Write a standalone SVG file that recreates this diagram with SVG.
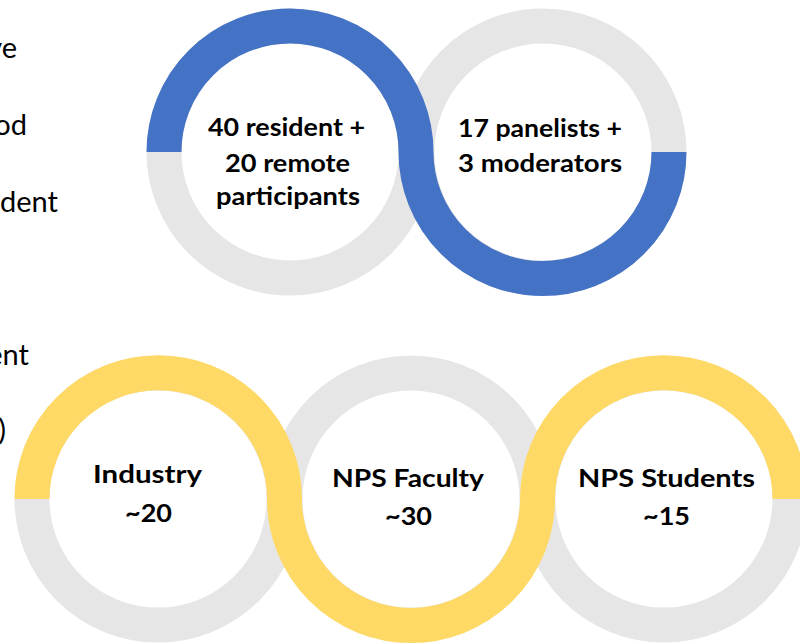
<svg xmlns="http://www.w3.org/2000/svg" width="800" height="643" viewBox="0 0 800 643">
  <style>
    .ring { fill: none; stroke: #E6E6E6; stroke-width: 35; }
    .blue { fill: none; stroke: #4472C4; stroke-width: 35; }
    .gold { fill: none; stroke: #FFD965; stroke-width: 35; }
    .lbl { font-family: Lato, "Liberation Sans", sans-serif; font-weight: bold; font-size: 24px; fill: #000; text-anchor: middle; }
    .side { font-family: Lato, "Liberation Sans", sans-serif; font-size: 29px; fill: #000; text-anchor: end; }
  </style>
  <rect width="800" height="643" fill="#FFFFFF"/>

  <g id="side-text">
    <text class="side" x="17" y="58">ve</text>
    <text class="side" x="27" y="135">od</text>
    <text class="side" x="58" y="212" textLength="58" lengthAdjust="spacingAndGlyphs">dent</text>
    <text class="side" x="29" y="365">ent</text>
    <text class="side" x="6" y="440">)</text>
  </g>

  <g id="connectors">
    <circle class="ring" cx="290" cy="152" r="126"/>
    <circle class="ring" cx="543" cy="152" r="126"/>
    <path class="blue" d="M 164 152 A 126 126 0 0 1 416 152 A 126 126 0 0 0 669 152"/>
    <circle class="ring" cx="158" cy="499" r="126"/>
    <circle class="ring" cx="411" cy="499" r="126"/>
    <circle class="ring" cx="664" cy="499" r="126"/>
    <path class="gold" d="M 32 499 A 126 126 0 0 1 284.5 499 A 126 126 0 0 0 537.5 499 A 126 126 0 0 1 790 499"/>
  </g>

  <g id="node-participants">
    <text class="lbl" x="286.5" y="136" textLength="157" lengthAdjust="spacingAndGlyphs">40 resident +</text>
    <text class="lbl" x="287.5" y="172" textLength="125" lengthAdjust="spacingAndGlyphs">20 remote</text>
    <text class="lbl" x="288" y="205" textLength="144" lengthAdjust="spacingAndGlyphs">participants</text>
  </g>
  <g id="node-panelists">
    <text class="lbl" x="540" y="137" textLength="164" lengthAdjust="spacingAndGlyphs">17 panelists +</text>
    <text class="lbl" x="540" y="172" textLength="164" lengthAdjust="spacingAndGlyphs">3 moderators</text>
  </g>
  <g id="node-industry">
    <text class="lbl" x="147.5" y="483" textLength="109" lengthAdjust="spacingAndGlyphs">Industry</text>
    <text class="lbl" x="148.5" y="522" textLength="47" lengthAdjust="spacingAndGlyphs">~20</text>
  </g>
  <g id="node-faculty">
    <text class="lbl" x="408" y="487" textLength="152" lengthAdjust="spacingAndGlyphs">NPS Faculty</text>
    <text class="lbl" x="408.5" y="525" textLength="47" lengthAdjust="spacingAndGlyphs">~30</text>
  </g>
  <g id="node-students">
    <text class="lbl" x="666.5" y="487" textLength="177" lengthAdjust="spacingAndGlyphs">NPS Students</text>
    <text class="lbl" x="666.5" y="525" textLength="47" lengthAdjust="spacingAndGlyphs">~15</text>
  </g>
</svg>
